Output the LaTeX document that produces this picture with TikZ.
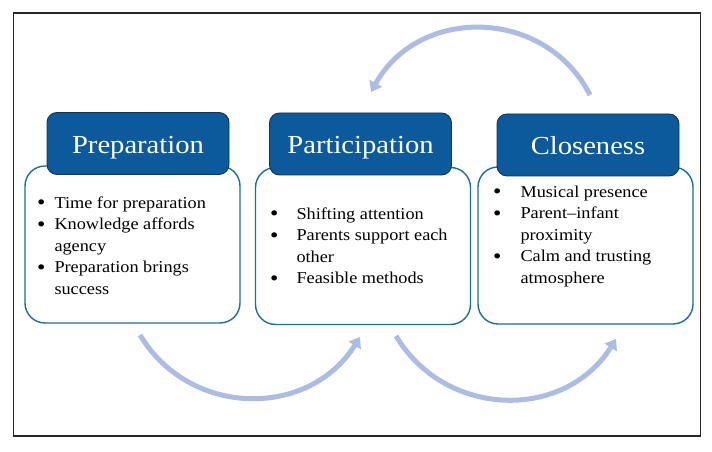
\documentclass[tikz,border=0pt]{standalone}
\usepackage{fontspec}
\setmainfont[FakeStretch=1.1]{Liberation Serif}
\usetikzlibrary{arrows.meta}
\definecolor{hdrfill}{RGB}{12,90,156}
\definecolor{hdrline}{RGB}{22,50,80}
\definecolor{boxline}{RGB}{28,112,146}
\definecolor{arrowc}{RGB}{172,188,228}
\definecolor{framec}{RGB}{40,40,40}
\newcommand{\bul}{\raisebox{-1.6pt}{\scalebox{1.3}{\textbullet}}}
\tikzset{
  bodybox/.style={draw=boxline, line width=1.4pt, fill=white, rounded corners=20pt,
    minimum width=215pt, minimum height=157pt, inner sep=0pt},
  header/.style={draw=hdrline, line width=0.9pt, fill=hdrfill, rounded corners=10pt,
    minimum width=182pt, minimum height=62pt, inner sep=0pt, text=white,
    font=\fontsize{26}{30}\selectfont, text height=22pt, text depth=2pt},
  bullets/.style={anchor=north west, inner sep=0pt, align=left,
    font=\fontsize{16.6}{21.5}\selectfont},
  cycarrow/.style={draw=arrowc, line width=5pt, -{Triangle[length=10pt,width=14pt]}},
}
\begin{document}
\begin{tikzpicture}[x=1pt,y=1pt]
\useasboundingbox (0,0) rectangle (712,452);
\node[draw=framec, line width=1.5pt, minimum width=687pt, minimum height=423pt, inner sep=0pt] (frame) at (356.75,452-224.5) {};

% body boxes
\node[bodybox] (b1) at (132.5,452-244.5) {};
\node[bodybox] (b2) at (363,452-246) {};
\node[bodybox] (b3) at (585.5,452-245.5) {};

% headers
\node[header] (h1) at (138,452-143.5) {Preparation};
\node[header] (h2) at (360.5,452-144) {Participation};
\node[header] (h3) at (588,452-145) {Closeness};

% bullet texts
\node[bullets] (t1) at (37,452-193) {%
  \begin{tabular}{@{}l@{\hspace{9pt}}l@{}}
  \bul & Time for preparation\\
  \bul & Knowledge affords\\
       & agency\\
  \bul & Preparation brings\\
       & success
  \end{tabular}};
\node[bullets] (t2) at (270,452-204) {%
  \begin{tabular}{@{}l@{\hspace{18pt}}l@{}}
  \bul & Shifting attention\\
  \bul & Parents support each\\
       & other\\
  \bul & Feasible methods
  \end{tabular}};
\node[bullets] (t3) at (493,452-182) {%
  \begin{tabular}{@{}l@{\hspace{19pt}}l@{}}
  \bul & Musical presence\\
  \bul & Parent--infant\\
       & proximity\\
  \bul & Calm and trusting\\
       & atmosphere
  \end{tabular}};

% arrow end points
\coordinate (a1s) at (140,452-335);
\coordinate (a1e) at (360,452-337);
\coordinate (a2s) at (396,452-336);
\coordinate (a2e) at (616,452-339);
\coordinate (a3s) at (590,452-95);
\coordinate (a3e) at (371,452-92);

\draw[cycarrow] (a1s) to[out=-59, in=238, looseness=1.12] (a1e);
\draw[cycarrow] (a2s) to[out=-59, in=238, looseness=1.12] (a2e);
\draw[cycarrow] (a3s) to[out=117, in=61, looseness=1.15] (a3e);
\end{tikzpicture}
\end{document}
